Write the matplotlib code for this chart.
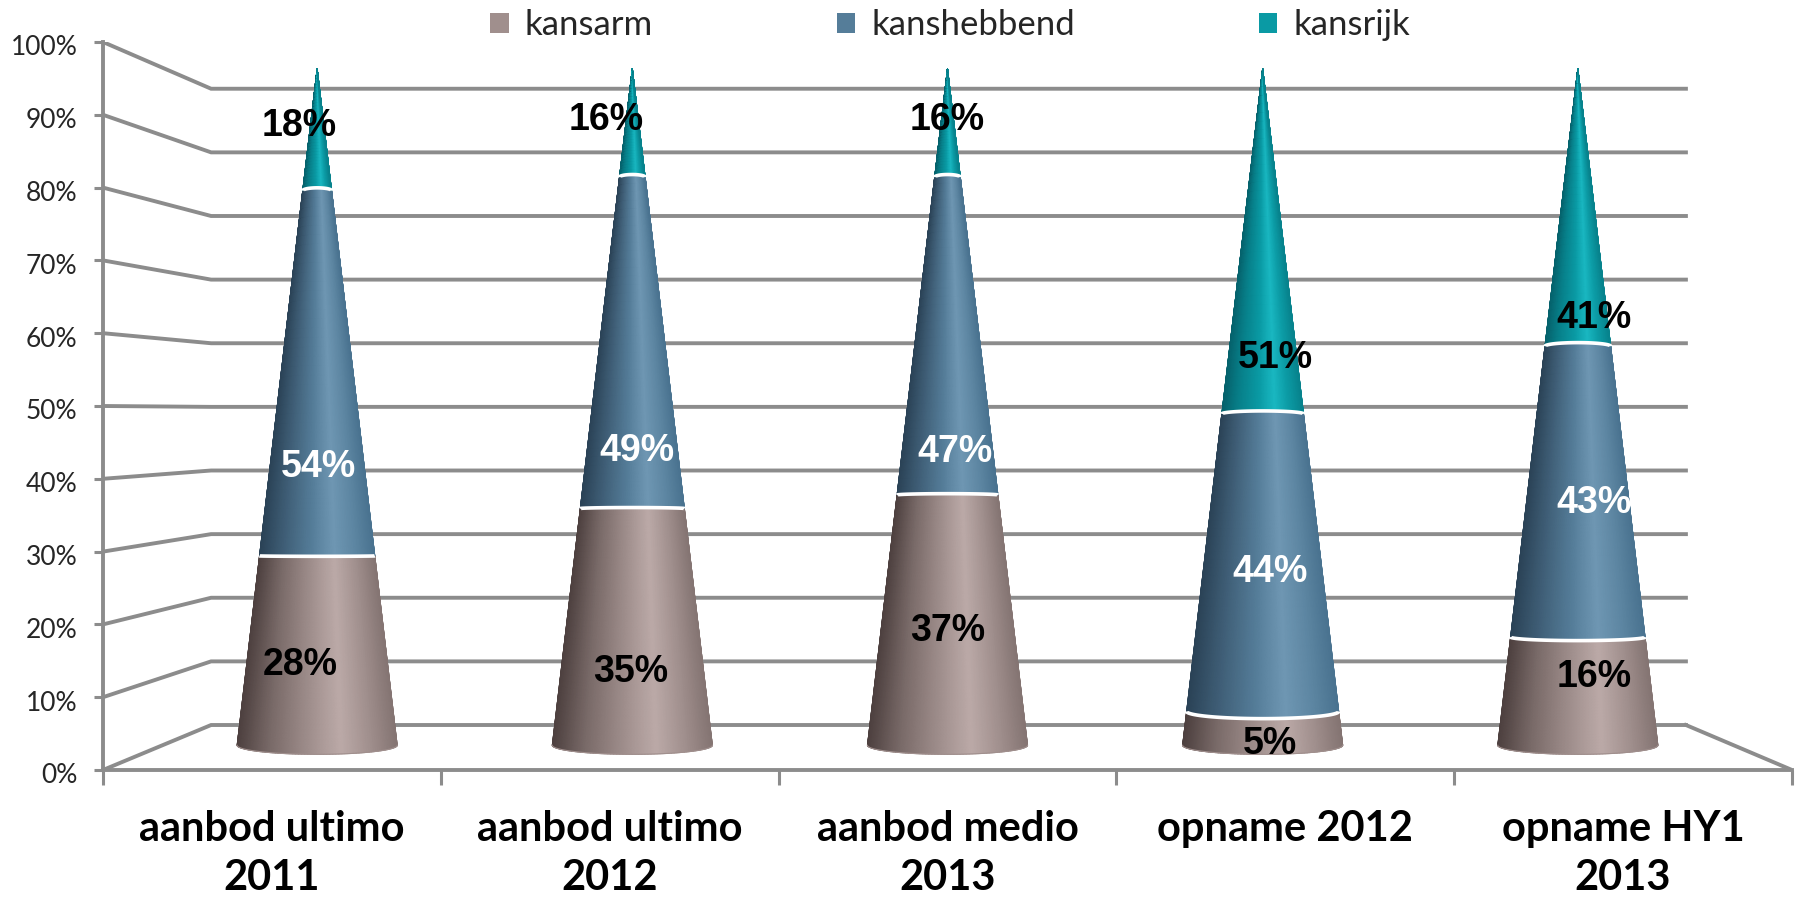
import numpy as np
import matplotlib
matplotlib.use("Agg")
import matplotlib.pyplot as plt
from matplotlib.colors import LinearSegmentedColormap
from matplotlib.patches import Patch
from matplotlib.transforms import ScaledTranslation

# -----------------------------
# Data
# -----------------------------
categories = ["aanbod ultimo\n2011", "aanbod ultimo\n2012", "aanbod medio\n2013",
              "opname 2012", "opname HY1\n2013"]
series_names = ["kansarm", "kanshebbend", "kansrijk"]
kansarm = [28, 35, 37, 5, 16]
kanshebbend = [54, 49, 47, 44, 43]
kansrijk = [18, 16, 16, 51, 41]
y_ticks = list(range(0, 101, 10))

# -----------------------------
# Fake 3D set-up (front plane = axes data, back wall is scaled/shifted)
# -----------------------------
BACK_X0, BACK_X1 = 0.32, 4.686
BACK_Y0, BACK_Y_SCALE = 6.18, 0.874
CONE_X0, CONE_STEP = 0.634, 0.933
CONE_BASE, CONE_SCALE = 3.4, 0.929
CONE_R = 0.237
ELLIPSE = 1.25
GRID = "#8c8c8c"

ramps = {
    "kansarm": ["#4e4140", "#796a68", "#a08f8d", "#bcaaa8", "#a39290", "#857573"],
    "kanshebbend": ["#2b4357", "#3f5e76", "#557d99", "#6f97b3", "#5f88a4", "#4a7390"],
    "kansrijk": ["#05626c", "#07808a", "#0a9aa4", "#1ab8c2", "#0c9ca6", "#07838d"],
}
txt_colors = {"kansarm": "black", "kanshebbend": "white", "kansrijk": "black"}

# label offset from segment middle (px right, px down)
label_dx = [[-17, -2, 0, 7, 16], [1, 5, 8, 7, 16], [-18, -26, 0, 13, 16]]
label_dy = [[14, 45, 11, 16, -14], [94, 108, 116, 9, 11], [-4, -3, -3, 117, 110]]

fig = plt.figure(figsize=(17.96, 8.98), dpi=100)
ax = fig.add_axes([103 / 1796, 1 - 770 / 898, 1689 / 1796, 728 / 898])
ax.set_xlim(0, 5)
ax.set_ylim(0, 100)


def back_y(p):
    return BACK_Y0 + BACK_Y_SCALE * p


# -----------------------------
# Walls and floor
# -----------------------------
for p in y_ticks:
    ax.plot([0, BACK_X0, BACK_X1], [p, back_y(p), back_y(p)], color=GRID, lw=2.8,
            solid_joinstyle="miter", zorder=1)
ax.plot([BACK_X1, 5], [back_y(0), 0], color=GRID, lw=2.8, zorder=1)


# -----------------------------
# Cones
# -----------------------------
def cone_y(p, u):
    r = 1 - p / 100
    return CONE_BASE + CONE_SCALE * p - ELLIPSE * r * (1 - p / 30) * np.sqrt(1 - u ** 2)


u_grid = np.sin(np.linspace(-np.pi / 2, np.pi / 2, 81))
for i in range(len(categories)):
    cx = CONE_X0 + CONE_STEP * i
    bottom = 0
    for s, (name, vals) in enumerate(zip(series_names, [kansarm, kanshebbend, kansrijk])):
        top = bottom + vals[i]
        ps = np.linspace(bottom, top, 40)
        U, P = np.meshgrid(u_grid, ps)
        X = cx + CONE_R * (1 - P / 100) * U
        Y = cone_y(P, U)
        cmap = LinearSegmentedColormap.from_list(
            name, list(zip([0, 0.2, 0.45, 0.65, 0.82, 1], ramps[name])))
        ax.pcolormesh(X, Y, (U + 1) / 2, cmap=cmap, vmin=0, vmax=1,
                      shading="gouraud", zorder=2 + s)
        if s == 0:
            # soft base edge
            ax.plot(X[0], Y[0], color=ramps[name][2], lw=0.8, zorder=2)
        if top < 100:
            ax.plot(X[-1], Y[-1], color="white", lw=2.6, zorder=6,
                    solid_capstyle="butt")
        mid = CONE_BASE + CONE_SCALE * (bottom + top) / 2
        ax.annotate(f"{vals[i]}%", xy=(cx, mid),
                    xytext=(label_dx[s][i], -label_dy[s][i]), textcoords="offset pixels",
                    ha="center", va="center", fontsize=27, fontweight="bold",
                    family="Liberation Sans", color=txt_colors[name], zorder=8)
        bottom = top

# -----------------------------
# Axes
# -----------------------------
for side in ["top", "right"]:
    ax.spines[side].set_visible(False)
for side in ["left", "bottom"]:
    ax.spines[side].set_color(GRID)
    ax.spines[side].set_linewidth(2.8)

ax.set_yticks(y_ticks)
ax.set_yticklabels([f"{p}%" for p in y_ticks], family="Lato", fontsize=19, color="#262626")
ax.tick_params(axis="y", length=6.5, width=2.2, color=GRID, pad=12)
# the percent labels sit a little under their ticks
shift = ScaledTranslation(0, -3.4 / 100, fig.dpi_scale_trans)
for lbl in ax.get_yticklabels():
    lbl.set_transform(lbl.get_transform() + shift)

ax.set_xticks(range(6))
ax.set_xticklabels([])
ax.tick_params(axis="x", which="major", length=11, width=2.2, color=GRID)
ax.set_xticks(np.arange(len(categories)) + 0.5, minor=True)
ax.set_xticklabels(categories, minor=True, family="Lato", fontweight="bold",
                   fontsize=30, linespacing=1.36, color="black")
ax.tick_params(axis="x", which="minor", length=0, pad=29)

# -----------------------------
# Legend
# -----------------------------
handles = [Patch(facecolor=ramps[n][2], label=n) for n in series_names]
fig.legend(handles=handles, loc="center", bbox_to_anchor=(0.529, 0.972), ncol=3, frameon=False,
           prop={"family": "Lato", "size": 25}, handlelength=0.53, handleheight=0.53,
           handletextpad=0.46, columnspacing=5.3, labelcolor="#262626")

fig.savefig("out.png", dpi=100)
